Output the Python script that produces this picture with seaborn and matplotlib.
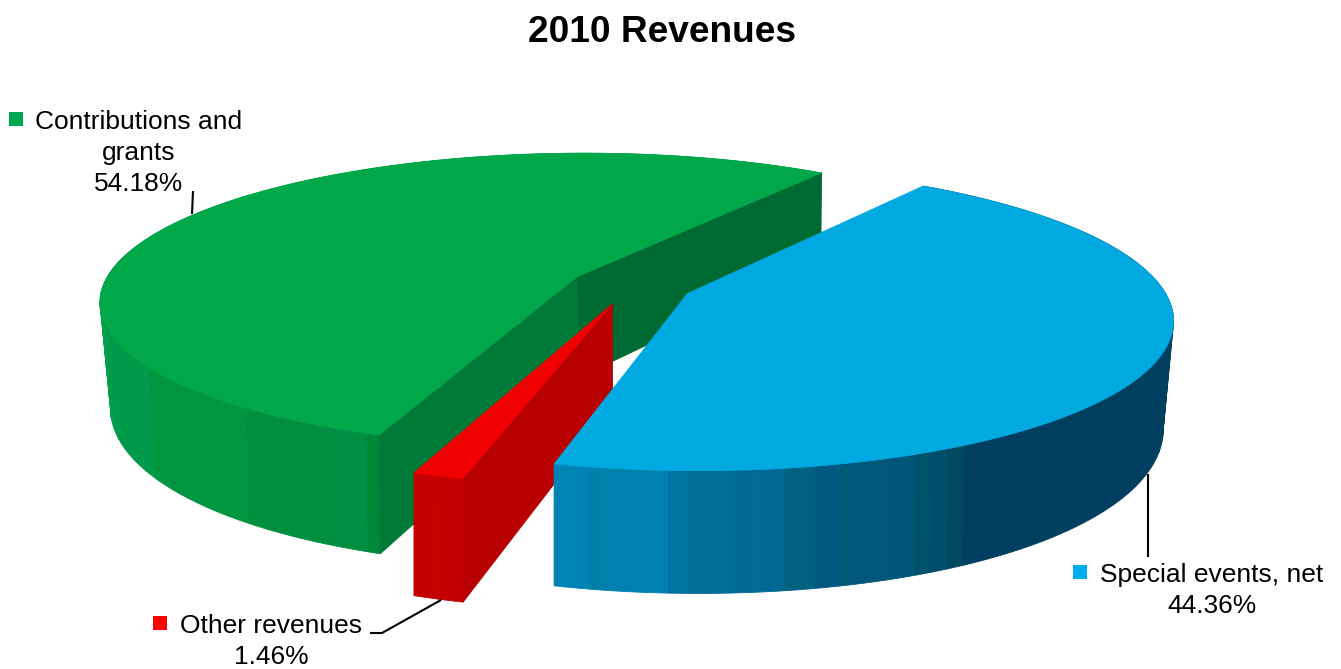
import numpy as np
import matplotlib
matplotlib.use("Agg")
import matplotlib.pyplot as plt
import seaborn as sns

# Revenue shares, listed counter-clockwise around the pie
categories = ["Contributions and\ngrants", "Other revenues", "Special events, net"]
shares = [54.18, 1.46, 44.36]
legend_colors = ["#00a651", "#ff0000", "#00aeef"]
top_colors = ["#00a84a", "#f00000", "#00a9e0"]

# Shaded facets on the outer walls: facet end, as a fraction of the slice sweep
green_facet_fracs = [(198 - 55) / 195, (215 - 55) / 195, (233 - 55) / 195,
                     (244 - 55) / 195, (248.5 - 55) / 195, 1.0]
green_facet_colors = ["#00a149", "#009a4b", "#00963f", "#008f3f", "#008e42", "#00873a"]
blue_facet_fracs = [(t - 255.3) / 159.7 for t in
                    (259, 260.5, 267, 269, 273, 278.7, 281.9, 284.5, 289.6,
                     292.8, 294.6, 296.5, 298.7, 415)]
blue_facet_colors = ["#0084b5", "#007fa8", "#0080ad", "#0074a0", "#006f9a", "#006a94",
                     "#00627f", "#005880", "#005778", "#00567a", "#00516a", "#004e6f",
                     "#004a60", "#003f5f"]
red_wall_color = "#c40000"
red_side_color = "#b80000"
green_side_colors = ["#006a33", "#007a38"]

# Projection of the pie plane onto the canvas
START_ANGLE = 55.0
EXPLODE = 0.13
CX, CY = 631.0, 285.5
RX, RY = 474.0, 146.0
PERSPECTIVE = 0.16
DEPTH = 102.0
SIDE_SHRINK = 0.02


def project_top(x, y):
    w = 1 + PERSPECTIVE * y
    return CX + RX * x / w, CY - RY * y / w


def project_base(x, y):
    sx, sy = project_top(x, y)
    w = 1 + PERSPECTIVE * y
    shrink = 1 - SIDE_SHRINK * np.clip(1 - y ** 2, 0, 1)
    return CX + shrink * (sx - CX), sy + DEPTH / w


def rim(apex, a0, a1):
    t = np.radians(np.linspace(a0, a1, max(int(abs(a1 - a0) * 4), 2)))
    return apex[0] + np.cos(t), apex[1] + np.sin(t)


def fill_wall(ax, apex, a0, a1, color):
    # Short strips keep the wall from folding over itself at the silhouette
    n = max(int(np.ceil((a1 - a0) / 4)), 1)
    stops = np.linspace(a0, a1, n + 1)
    for s0, s1 in zip(stops[:-1], stops[1:]):
        x, y = rim(apex, s0, s1)
        tx, ty = project_top(x, y)
        bx, by = project_base(x, y)
        ax.fill(np.r_[tx, bx[::-1]], np.r_[ty, by[::-1]], fc=color, ec=color, lw=0.6)


def fill_side(ax, apex, angle, color):
    t = np.radians(angle)
    x = np.array([apex[0], apex[0] + np.cos(t)])
    y = np.array([apex[1], apex[1] + np.sin(t)])
    tx, ty = project_top(x, y)
    bx, by = project_base(x, y)
    ax.fill(np.r_[tx, bx[::-1]], np.r_[ty, by[::-1]], fc=color, ec=color, lw=0.6)


def fill_top(ax, apex, a0, a1, color):
    x, y = rim(apex, a0, a1)
    x, y = np.r_[apex[0], x], np.r_[apex[1], y]
    sx, sy = project_top(x, y)
    ax.fill(sx, sy, fc=color, ec=color, lw=0.5)


sns.set_theme(style="white")
plt.rcParams["font.family"] = ["Liberation Sans", "DejaVu Sans"]

fig = plt.figure(figsize=(13.41, 6.69), dpi=100)
ax = fig.add_axes([0, 0, 1, 1])
ax.set_xlim(0, 1341)
ax.set_ylim(669, 0)
ax.axis("off")

# Slice sweep angles and exploded apex positions
fractions = np.array(shares) / np.sum(shares)
edges = START_ANGLE + 360 * np.r_[0, np.cumsum(fractions)]
apexes = []
for a0, a1 in zip(edges[:-1], edges[1:]):
    mid = np.radians((a0 + a1) / 2)
    apexes.append((EXPLODE * np.cos(mid), EXPLODE * np.sin(mid)))

# Green slice
a0, a1 = edges[0], edges[1]
prev = 0.0
for frac, col in zip(green_facet_fracs, green_facet_colors):
    fill_wall(ax, apexes[0], a0 + prev * (a1 - a0), a0 + frac * (a1 - a0), col)
    prev = frac
fill_side(ax, apexes[0], a0, green_side_colors[0])
fill_side(ax, apexes[0], a1, green_side_colors[1])
fill_top(ax, apexes[0], a0, a1, top_colors[0])

# Red slice
a0, a1 = edges[1], edges[2]
fill_wall(ax, apexes[1], a0, a1, red_wall_color)
fill_side(ax, apexes[1], a1, red_side_color)
fill_top(ax, apexes[1], a0, a1, top_colors[1])

# Blue slice
a0, a1 = edges[2], edges[3]
prev = 0.0
for frac, col in zip(blue_facet_fracs, blue_facet_colors):
    fill_wall(ax, apexes[2], a0 + prev * (a1 - a0), a0 + frac * (a1 - a0), col)
    prev = frac
fill_top(ax, apexes[2], a0, a1, top_colors[2])

# Title
ax.text(662, 32, "2010 Revenues", ha="center", va="center",
        fontsize=26.7, fontweight="bold", color="black")

# Leader lines
ax.plot([193, 192], [191, 214], color="black", lw=1.5, solid_capstyle="butt")
ax.plot([1148, 1148], [474, 557], color="black", lw=1.5, solid_capstyle="butt")
ax.plot([370, 382, 441], [633, 633, 600], color="black", lw=1.5, solid_capstyle="butt")

# Data labels with legend keys
label_spots = [(139, 153), (271, 641.5), (1212, 590.5)]
key_spots = [(9, 112), (153, 616), (1073, 565)]
for name, value, (lx, ly), (kx, ky), col in zip(categories, shares, label_spots,
                                                key_spots, legend_colors):
    ax.text(lx, ly, f"{name}\n{value:.2f}%", ha="center", va="center",
            multialignment="center", fontsize=19, linespacing=1.36, color="black")
    ax.add_patch(plt.Rectangle((kx, ky), 14, 14, fc=col, ec="none"))

fig.savefig("out.png", dpi=100, facecolor="white")
